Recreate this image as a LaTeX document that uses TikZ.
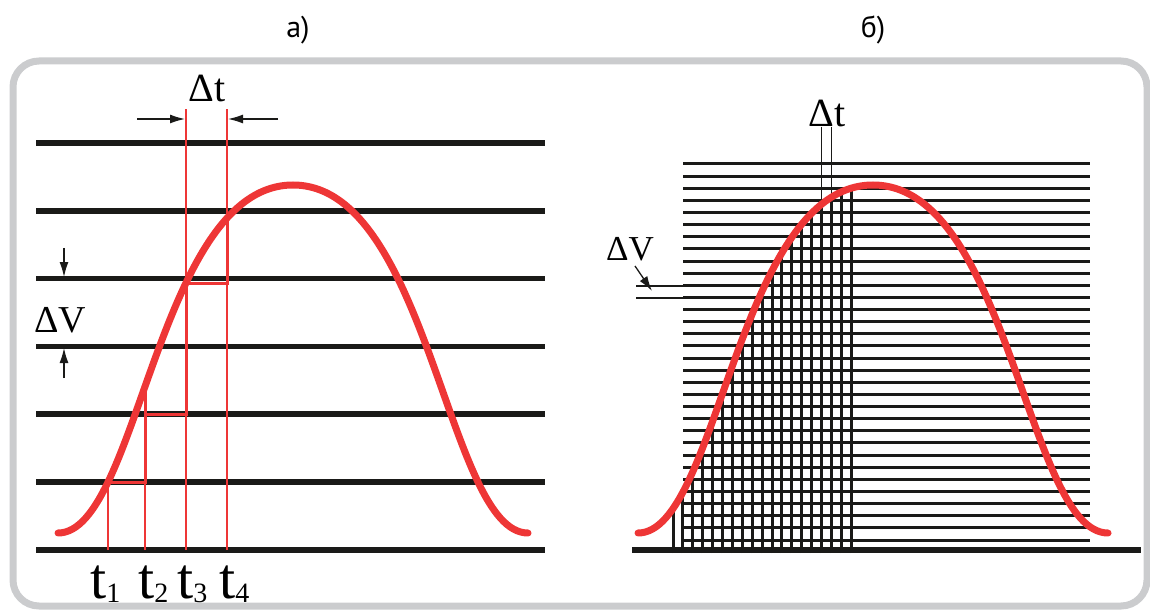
\documentclass[tikz,border=0pt]{standalone}
\usepackage{fontspec}
\newfontfamily\serifrm{Liberation Serif}
\newfontfamily\labelsf{PT Sans}
\usetikzlibrary{arrows.meta}
\definecolor{sigred}{RGB}{238,54,54}
\definecolor{framegray}{RGB}{203,204,206}
\definecolor{inkblack}{RGB}{26,26,24}
\tikzset{
  level line/.style={draw=inkblack, line width=5.5pt},
  grid line/.style={draw=inkblack, line width=3pt},
  hair line/.style={draw=inkblack, line width=1.3pt},
  signal/.style={draw=sigred, line width=7pt, line cap=round},
  marker/.style={draw=sigred, line width=1.3pt},
  hold/.style={draw=sigred, line width=3pt},
  dim arrow/.style={draw=inkblack, line width=1.3pt, -{Latex[length=15pt,width=9pt]}},
  sym/.style={font=\serifrm\fontsize{40}{40}\selectfont, inner sep=0pt},
  tsym/.style={font=\serifrm\fontsize{58}{58}\selectfont, inner sep=0pt, anchor=base west},
  caption/.style={font=\labelsf\fontsize{30}{30}\selectfont, inner sep=0pt},
}
% the bell-shaped signal of panel a
\newcommand\bell{(58,533) .. controls (138.5,533) and (157.5,185) .. (293,185)
  .. controls (428.5,185) and (447.5,533) .. (528,533)}
\newcommand\tlab[1]{t\raisebox{-4pt}{\fontsize{28}{28}\selectfont #1}}
\begin{document}
\begin{tikzpicture}[x=1pt,y=-1pt]
    \useasboundingbox (0,0) rectangle (1150,612);
    \draw[framegray, line width=7pt, rounded corners=26pt] (13,61) rectangle (1147,606);
    \node[caption] (capa) at (298,30) {а)};
    \node[caption] (capb) at (873,30) {б)};

    % Panel a: coarse levels
    \foreach \k in {0,...,6}
        \draw[level line] (36,{143+67.8*\k}) -- (545,{143+67.8*\k});
    \draw[marker] (108,550) -- (108,482);
    \draw[marker] (145,550) -- (145,390);
    \draw[marker] (186,550) -- (186,109);
    \draw[marker] (227,550) -- (227,109);
    \draw[hold] (108,482) -| (145,390);
    \draw[hold] (145,414) -| (186,285);
    \draw[hold] (186,283) -| (227,219);
    \draw[signal] \bell;
    \node[sym] (dta) at (207,88) {Δt};
    \draw[dim arrow] (137,119) -- (185,119);
    \draw[dim arrow] (278,119) -- (228,119);
    \node[sym, font=\serifrm\fontsize{38}{38}\selectfont] (dva) at (60,320) {ΔV};
    \draw[dim arrow] (64,248) -- (64,277);
    \draw[dim arrow] (64,378) -- (64,348);
    \node[tsym] (t1) at (90,598) {\tlab{1}};
    \node[tsym] (t2) at (138,598) {\tlab{2}};
    \node[tsym] (t3) at (177,598) {\tlab{3}};
    \node[tsym] (t4) at (219,598) {\tlab{4}};

    % Panel b: fine levels
    \foreach \k in {0,...,31}
        \draw[grid line] (683,{164+12.13*\k}) -- (1090,{164+12.13*\k});
    \draw[hair line] (636,286) -- (683,286);
    \draw[hair line] (636,298) -- (683,298);
    \draw[hair line] (821.5,127) -- (821.5,550);
    \draw[hair line] (831.4,127) -- (831.4,550);
    \begin{scope}
        \clip[xshift=580pt] \bell -- (528,553) -- (58,553) -- cycle;
        \foreach \k in {0,...,18}
            \draw[grid line] ({673+9.9*\k},553) -- ({673+9.9*\k},150);
    \end{scope}
    \draw[level line] (632,550) -- (1141,550);
    \draw[signal, xshift=580pt] \bell;
    \node[sym] (dtb) at (827,113) {Δt};
    \node[sym, font=\serifrm\fontsize{35}{35}\selectfont] (dvb) at (630,249) {ΔV};
    \draw[dim arrow] (635,266) -- (652,291);
\end{tikzpicture}
\end{document}
